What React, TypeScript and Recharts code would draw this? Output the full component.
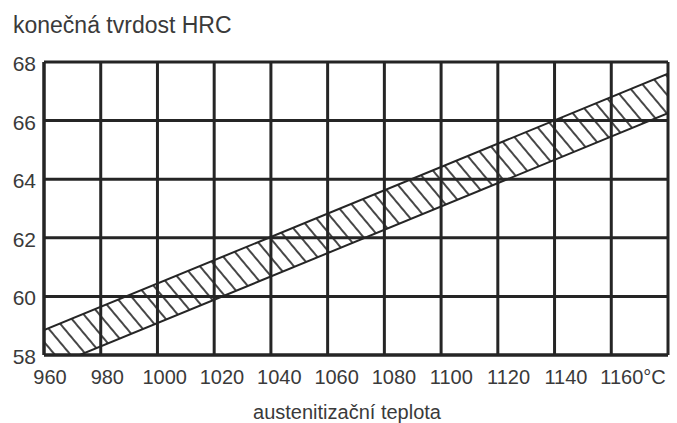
import React from 'react'
import { ComposedChart, Area, Line, XAxis, YAxis, CartesianGrid } from 'recharts'

// austenitizing temperature (°C) vs final hardness band (HRC)
const temps = [960, 1180]
const upperHrc = [58.85, 67.6]
const lowerHrc = [57.5, 66.25]

const xTicks = [960, 980, 1000, 1020, 1040, 1060, 1080, 1100, 1120, 1140, 1160, 1180]
const yTicks = [58, 60, 62, 64, 66, 68]

const data = temps.map((t, i) => ({
  temp: t,
  upper: upperHrc[i],
  lower: lowerHrc[i],
  band: [lowerHrc[i], upperHrc[i]],
}))

const INK = '#252525'
const TEXT = '#3a3a3a'
const FONT = '"Liberation Sans", Arial, sans-serif'

const XTick = ({ x, y, payload }: any) => {
  const v = payload.value
  if (v === 1180) return null
  if (v === 1160) {
    return (
      <text x={x - 11} y={y + 21} textAnchor="start" fill={TEXT} fontSize={20} fontFamily={FONT}>
        {v}°C
      </text>
    )
  }
  return (
    <text x={x + 6 + (v - 960) * 0.03} y={y + 21} textAnchor="middle" fill={TEXT} fontSize={20} fontFamily={FONT}>
      {v}
    </text>
  )
}

const YTick = ({ x, y, payload }: any) => (
  <text x={x} y={y + 9} textAnchor="end" fill={TEXT} fontSize={21} fontFamily={FONT}>
    {payload.value}
  </text>
)

export default function App() {
  return (
    <div style={{ position: 'relative', width: 677, height: 423, background: '#fff' }}>
      <style>{`body{margin:0}`}</style>
      <ComposedChart width={677} height={423} data={data} margin={{ top: 62, right: 9, left: 0, bottom: 0 }}>
        <defs>
          <pattern id="hatch" patternUnits="userSpaceOnUse" width={12} height={12} patternTransform="rotate(-40)">
            <line x1={6} y1={0} x2={6} y2={12} stroke={INK} strokeWidth={1.7} />
          </pattern>
        </defs>
        <CartesianGrid stroke={INK} strokeWidth={3} horizontalValues={yTicks} verticalValues={xTicks} />
        <XAxis
          dataKey="temp"
          type="number"
          domain={[960, 1180]}
          ticks={xTicks}
          allowDataOverflow
          height={68}
          tickLine={false}
          axisLine={{ stroke: INK, strokeWidth: 3 }}
          tick={<XTick />}
        />
        <YAxis
          type="number"
          domain={[58, 68]}
          ticks={yTicks}
          allowDataOverflow
          width={44}
          tickLine={false}
          axisLine={{ stroke: INK, strokeWidth: 3 }}
          tick={<YTick />}
        />
        <Area dataKey="band" type="linear" fill="url(#hatch)" fillOpacity={1} stroke="none" isAnimationActive={false} />
        <Line dataKey="upper" type="linear" stroke={INK} strokeWidth={2} dot={false} isAnimationActive={false} />
        <Line dataKey="lower" type="linear" stroke={INK} strokeWidth={2} dot={false} isAnimationActive={false} />
      </ComposedChart>
      <svg width={677} height={423} style={{ position: 'absolute', left: 0, top: 0, pointerEvents: 'none' }}>
        <text x={13} y={33} fill={TEXT} fontSize={23} fontFamily={FONT}>konečná tvrdost HRC</text>
        <text x={347} y={419} textAnchor="middle" fill={TEXT} fontSize={20} fontFamily={FONT}>austenitizační teplota</text>
      </svg>
    </div>
  )
}
